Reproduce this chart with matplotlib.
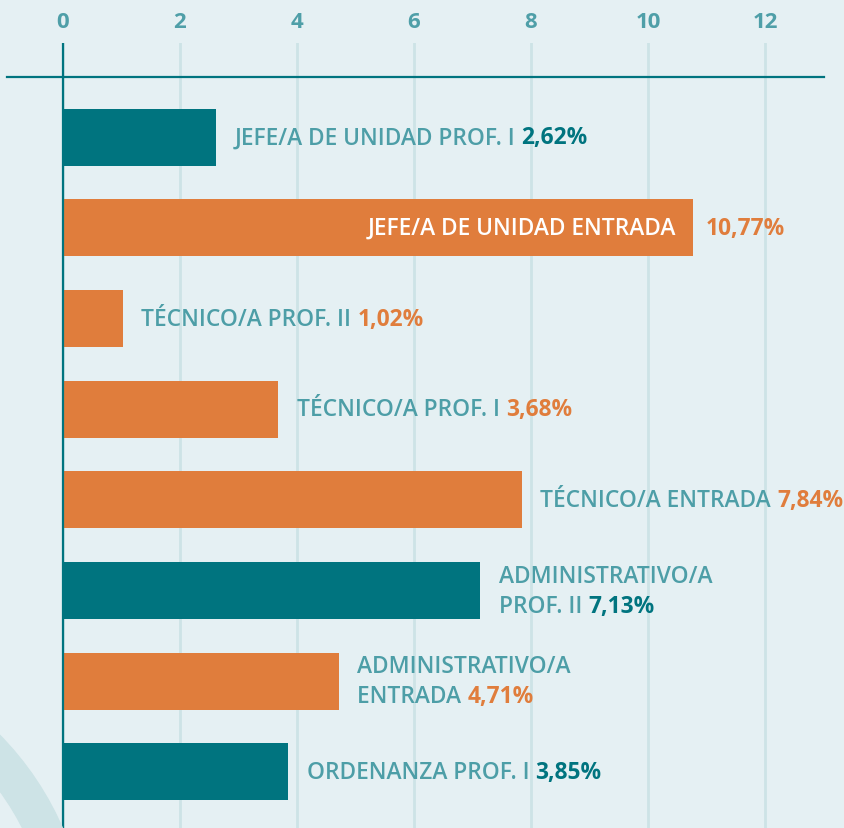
import matplotlib.pyplot as plt
from matplotlib.patches import Wedge

categories = ["JEFE/A DE UNIDAD PROF. I", "JEFE/A DE UNIDAD ENTRADA",
              "TÉCNICO/A PROF. II", "TÉCNICO/A PROF. I", "TÉCNICO/A ENTRADA",
              "ADMINISTRATIVO/A\nPROF. II", "ADMINISTRATIVO/A\nENTRADA",
              "ORDENANZA PROF. I"]
values = [2.62, 10.77, 1.02, 3.68, 7.84, 7.13, 4.71, 3.85]
groups = ["teal", "orange", "orange", "orange", "orange", "teal", "orange", "teal"]
xticks = [0, 2, 4, 6, 8, 10, 12]

BG = "#e5f0f3"
TEAL = "#00747f"
ORANGE = "#e07d3c"
LABEL = "#4d9ea7"
GRID = "#cde3e6"
palette = {"teal": TEAL, "orange": ORANGE}

plt.rcParams['font.family'] = ['Open Sans', 'DejaVu Sans']

W, H = 844, 829
fig = plt.figure(figsize=(W / 100, H / 100), dpi=100, facecolor=BG)

# decorative ring in the lower-left corner (display pixels)
ring = Wedge((-220, -123), 308, 0, 90, width=36, color=GRID, transform=None, zorder=0)
fig.patches.append(ring)

ax = fig.add_axes([0, 0, 1, (H - 44) / H])
ax.set_facecolor("none")
ax.set_xlim(-1.077, 13.35)
ax.set_ylim(7.62, -1.04)

for s in ax.spines.values():
    s.set_visible(False)
ax.xaxis.tick_top()
ax.set_xticks(xticks)
ax.set_xticklabels([str(t) for t in xticks], fontweight="bold")
ax.tick_params(axis="x", length=0, pad=8, labelsize=16, labelcolor="#4f9fa8")
ax.set_yticks([])
ax.grid(axis="x", color=GRID, lw=2, zorder=0)

ax.plot([-0.957, 13.01], [-0.665, -0.665], color=TEAL, lw=1.6, zorder=3, clip_on=False)
ax.axvline(0, color=TEAL, lw=1.6, zorder=4)

ypos = list(range(len(categories)))
ax.barh(ypos, values, height=0.63, color=[palette[g] for g in groups], zorder=2)

fs = 16.4
for i, (cat, v, g) in enumerate(zip(categories, values, groups)):
    val = f"{v:.2f}".replace(".", ",") + "%"
    col = palette[g]
    if v > 10:
        ax.annotate(cat, xy=(v, i), xytext=(-12, 0), textcoords="offset points",
                    ha="right", va="center", color="white", fontsize=fs,
                    fontweight="semibold", zorder=5)
        ax.annotate(val, xy=(v, i), xytext=(9, 0), textcoords="offset points",
                    ha="left", va="center", color=col, fontsize=fs,
                    fontweight="bold", zorder=5)
        continue
    lines = cat.split("\n")
    n = len(lines)
    step = 21.6  # line spacing in points
    last = None
    for k, line in enumerate(lines):
        dy = (n - 1) / 2 * step - k * step
        last = ax.annotate(line + " ", xy=(v, i), xytext=(13.5, dy),
                           textcoords="offset points", ha="left", va="center",
                           color=LABEL, fontsize=fs, fontweight="semibold", zorder=5)
    ax.annotate(val, xy=(1, 0), xycoords=last, ha="left", va="bottom",
                color=col, fontsize=fs, fontweight="bold", zorder=5,
                annotation_clip=False)

fig.savefig("out.png", dpi=100, facecolor=BG)
